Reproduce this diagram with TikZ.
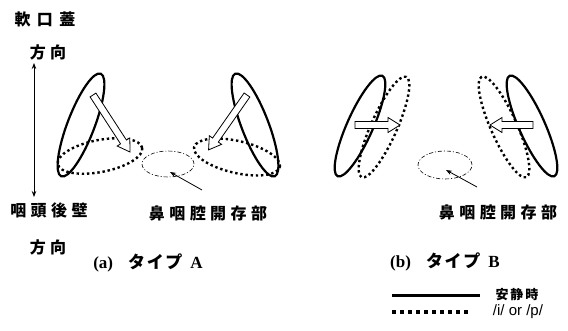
\documentclass[tikz,border=0pt]{standalone}
\usepackage{fontspec}
\usetikzlibrary{shapes.geometric,arrows.meta}
\setmainfont{Liberation Serif}
\newfontfamily\jp{Noto Sans CJK JP}
\newfontfamily\jpA[LetterSpace=40]{Noto Sans CJK JP}
\newfontfamily\jpB[LetterSpace=28]{Noto Sans CJK JP}
\newfontfamily\jpC[LetterSpace=15]{Noto Sans CJK JP}
\newfontfamily\jpD[LetterSpace=10]{Noto Sans CJK JP}
\newfontfamily\lsans{Liberation Sans}
\begin{document}
\begin{tikzpicture}[x=1pt,y=-1pt]
\tikzset{
 solidell/.style={ellipse, draw, line width=2.2pt, inner sep=0pt},
 dotell/.style={ellipse, draw, line width=2.4pt, dash pattern=on 2.4pt off 2.8pt, inner sep=0pt},
 dashdotell/.style={ellipse, draw, line width=0.6pt, dash pattern=on 4pt off 2pt on 1pt off 2pt, inner sep=0pt},
 hollow/.style={draw, fill=white, line width=0.8pt, line join=miter},
 biglbl/.style={font=\jpB\bfseries\fontsize{16}{16}\selectfont, inner sep=0pt},
 caplbl/.style={font=\bfseries\fontsize{17}{17}\selectfont, inner sep=0pt},
 thinarrow/.style={line width=0.8pt, -{Stealth[length=6pt,width=4.5pt]}},
}
% hollow block arrow: #1 = length, along +x from origin
\newcommand{\hollowarr}[1]{%
  \draw[hollow] (0,-3.5) -- (#1-12,-3.5) -- (#1-12,-7.5) -- (#1,0) -- (#1-12,7.5) -- (#1-12,3.5) -- (0,3.5) -- cycle;}
\useasboundingbox (0,0) rectangle (568,330);
% ---------- Panel A ----------
\node[biglbl, font=\jpA\bfseries\fontsize{16}{16}\selectfont] (soft) at (45,19) {軟口蓋};
\node[biglbl] (dir1) at (48,52) {方向};
\node[biglbl] (phar) at (49,210) {咽頭後壁};
\node[biglbl] (dir2) at (48,247) {方向};
\coordinate (vt) at (34,63);
\coordinate (vb) at (34,197);
\draw[line width=0.8pt, {Stealth[length=6pt,width=4.5pt]}-{Stealth[length=6pt,width=4.5pt]}] (vt) -- (vb);

\node[dotell, minimum width=86pt, minimum height=32pt, rotate=11] (aLd) at (100,156) {};
\node[dotell, minimum width=88pt, minimum height=32pt, rotate=-13] (aRd) at (237,157) {};
\node[solidell, minimum width=110pt, minimum height=27pt, rotate=69] (aLs) at (81,125) {};
\node[solidell, minimum width=110pt, minimum height=27pt, rotate=111] (aRs) at (255,125) {};
\begin{scope}[shift={(93,95)}, rotate=-57]\hollowarr{68}\end{scope}
\begin{scope}[shift={(247,95)}, rotate=-125]\hollowarr{67}\end{scope}

\node[dashdotell, minimum width=52pt, minimum height=26pt] (aopen) at (168,164) {};
\coordinate (aArrTail) at (202,190);
\coordinate (aArrTip) at (170,172);
\draw[thinarrow] (aArrTail) -- (aArrTip);
\node[biglbl] (aLab) at (208,213) {鼻咽腔開存部};
\node[caplbl] (capA) at (148,263) {(a)\hspace{15pt}{\jpD タイプ}\hspace{8pt}A};

% ---------- Panel B ----------
\node[dotell, minimum width=110pt, minimum height=26pt, rotate=66] (bLd) at (384,127) {};
\node[dotell, minimum width=110pt, minimum height=26pt, rotate=114] (bRd) at (504,127) {};
\node[solidell, minimum width=110pt, minimum height=26pt, rotate=66] (bLs) at (360,126) {};
\node[solidell, minimum width=110pt, minimum height=26pt, rotate=114] (bRs) at (532,126) {};
\begin{scope}[shift={(355,125)}]\hollowarr{45}\end{scope}
\begin{scope}[shift={(533,125)}, rotate=180]\hollowarr{43}\end{scope}

\node[dashdotell, minimum width=54pt, minimum height=28pt] (bopen) at (445,165) {};
\coordinate (bArrTail) at (477,187);
\coordinate (bArrTip) at (446,170);
\draw[thinarrow] (bArrTail) -- (bArrTip);
\node[biglbl] (bLab) at (498,212) {鼻咽腔開存部};
\node[caplbl] (capB) at (445,262) {(b)\hspace{15pt}{\jpD タイプ}\hspace{8pt}B};

% ---------- Legend ----------
\coordinate (l1a) at (392,295);
\coordinate (l1b) at (480,295);
\draw[line width=3pt] (l1a) -- (l1b);
\node[font=\jpC\bfseries\fontsize{13}{13}\selectfont, inner sep=0pt] (rest) at (517,295) {安静時};
\coordinate (l2a) at (392,312);
\coordinate (l2b) at (472,312);
\draw[line width=3.5pt, dash pattern=on 3.5pt off 4.5pt] (l2a) -- (l2b);
\node[font=\lsans\fontsize{15}{15}\selectfont, inner sep=0pt] (ip) at (518,312) {/i/ or /p/};
\end{tikzpicture}
\end{document}
